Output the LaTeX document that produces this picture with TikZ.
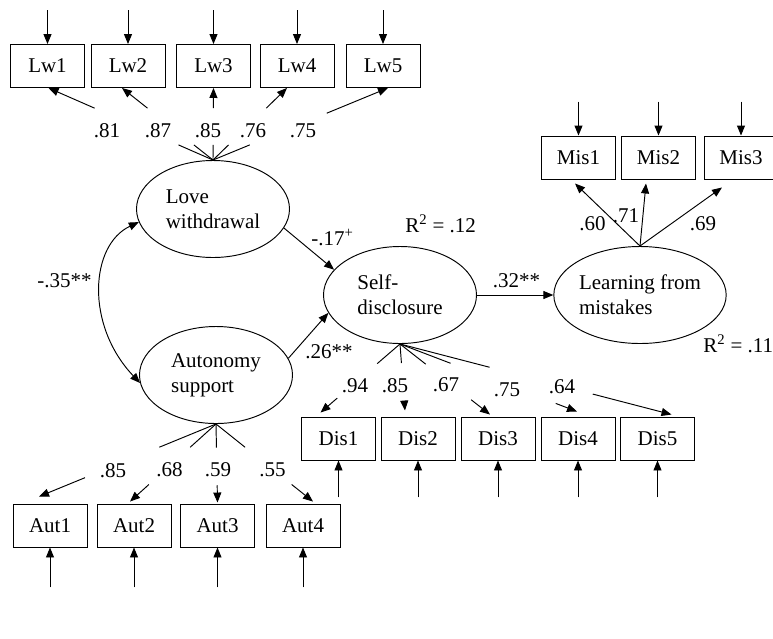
\documentclass[tikz,border=0pt]{standalone}
\usepackage{fontspec}
\setmainfont{Liberation Serif}
\usetikzlibrary{shapes.geometric,arrows.meta,calc}

\begin{document}
\begin{tikzpicture}[x=1pt,y=-1pt,
    font=\fontsize{21}{25}\selectfont,
    line width=0.95pt,
    >={Triangle[length=10pt,width=8pt]},
    obs/.style={draw, minimum width=74pt, minimum height=43pt, inner sep=0pt},
    lat/.style={draw, ellipse, minimum width=153pt, minimum height=97pt, inner sep=0pt, align=left},
    lab/.style={anchor=base, inner sep=0pt}]
    \useasboundingbox (0,0) rectangle (773,638);

    % Variables latentes
    \node[lat] (love) at (213,209) {Love\\withdrawal};
    \node[lat] (aut) at (216,375) {Autonomy\\support};
    \node[lat] (self) at (400,295) {Self-\\disclosure};
    \node[lat, minimum width=165pt] (learn) at (640,295) {Learning from\\mistakes};

    % Indicadores
    \node[obs] (Lw1) at (47.5,66) {Lw1};
    \node[obs] (Lw2) at (128,66) {Lw2};
    \node[obs] (Lw3) at (213.5,66) {Lw3};
    \node[obs] (Lw4) at (297,66) {Lw4};
    \node[obs] (Lw5) at (383,66) {Lw5};
    \node[obs] (Mis1) at (578.5,157.5) {Mis1};
    \node[obs] (Mis2) at (658.5,157.5) {Mis2};
    \node[obs] (Mis3) at (741,157.5) {Mis3};
    \node[obs] (Dis1) at (338.5,438.5) {Dis1};
    \node[obs] (Dis2) at (418,438.5) {Dis2};
    \node[obs] (Dis3) at (498,438.5) {Dis3};
    \node[obs] (Dis4) at (578,438.5) {Dis4};
    \node[obs] (Dis5) at (657.5,438.5) {Dis5};
    \node[obs] (Aut1) at (50,525.5) {Aut1};
    \node[obs] (Aut2) at (134,525.5) {Aut2};
    \node[obs] (Aut3) at (217.5,525.5) {Aut3};
    \node[obs] (Aut4) at (303,525.5) {Aut4};

    % Errores
    \foreach \n in {Lw1,Lw2,Lw3,Lw4,Lw5,Mis1,Mis2,Mis3}
        \draw[->] ([yshift=34pt]\n.north) -- (\n.north);
    \foreach \n in {Dis1,Dis2,Dis3,Dis4,Dis5}
        \draw[->] ([yshift=-37pt]\n.south) -- (\n.south);
    \foreach \n in {Aut1,Aut2,Aut3,Aut4}
        \draw[->] ([yshift=-40pt]\n.south) -- (\n.south);

    % Cargas (linea cortada en la zona de las etiquetas)
    \foreach \n/\dx/\dy/\s/\t in {Lw1/1/0/.21/.72, Lw2/-6/0/.21/.72, Lw3/0/0/.21/.72,
                                  Lw4/-10/0/.21/.72, Lw5/5/0/.21/.65} {
        \coordinate (tip) at ([xshift=\dx pt,yshift=\dy pt]\n.south);
        \draw (love.north) -- ($(love.north)!\s!(tip)$);
        \draw[->] ($(love.north)!\t!(tip)$) -- (tip);
    }
    \foreach \n/\dx/\dy/\s/\t in {Dis1/-18/4/.286/.79, Dis2/-13/6/.286/.86, Dis3/-8/2/.286/.79,
                                  Dis4/-1/5/.286/.88, Dis5/14/2/.33/.71} {
        \coordinate (tip) at ([xshift=\dx pt,yshift=\dy pt]\n.north);
        \draw (self.south) -- ($(self.south)!\s!(tip)$);
        \draw[->] ($(self.south)!\t!(tip)$) -- (tip);
    }
    \foreach \n/\dx/\dy/\s/\t in {Aut1/-11/7/.32/.74, Aut2/-4/2/.30/.78, Aut3/0/1/.30/.78,
                                  Aut4/10/2/.30/.78} {
        \coordinate (tip) at ([xshift=\dx pt,yshift=\dy pt]\n.north);
        \draw (aut.south) -- ($(aut.south)!\s!(tip)$);
        \draw[->] ($(aut.south)!\t!(tip)$) -- (tip);
    }
    \foreach \n/\dx/\dy in {Mis1/-3.5/-4, Mis2/-12.5/-4, Mis3/-19/-8}
        \draw[->] (learn.north) -- ([xshift=\dx pt,yshift=\dy pt]\n.south);

    % Etiquetas de cargas
    \foreach \x/\v in {107/.81, 158/.87, 208/.85, 253/.76, 303/.75}
        \node[lab] at (\x,137) {\v};
    \node[lab] at (355,392) {.94};
    \node[lab] at (395,392) {.85};
    \node[lab] at (446,391) {.67};
    \node[lab] at (507,396) {.75};
    \node[lab] at (562,393) {.64};
    \node[lab] at (113,477) {.85};
    \node[lab] at (169.5,476) {.68};
    \node[lab] at (218,476) {.59};
    \node[lab] at (272.5,476) {.55};
    \node[lab] at (592.5,230) {.60};
    \node[lab] at (626,222) {.71};
    \node[lab] at (703,230) {.69};

    % Relaciones estructurales
    \draw[<->] (love.190) .. controls (90,245) and (85,325) .. (aut.186);
    \draw[->] (love.-15) -- (self.159);
    \draw[->] (aut.13) -- (self.194);
    \draw[->] (self.east) -- (learn.west);

    \node[lab] at (64.5,287) {-.35**};
    \node[lab] at (332.5,245) {-.17\textsuperscript{+}};
    \node[lab] at (329,358) {.26**};
    \node[lab] at (516.5,287) {.32**};
    \node[lab, anchor=base west] at (405,232) {R\textsuperscript{2} = .12};
    \node[lab, anchor=base west] at (703,352) {R\textsuperscript{2} = .11};
\end{tikzpicture}
\end{document}
